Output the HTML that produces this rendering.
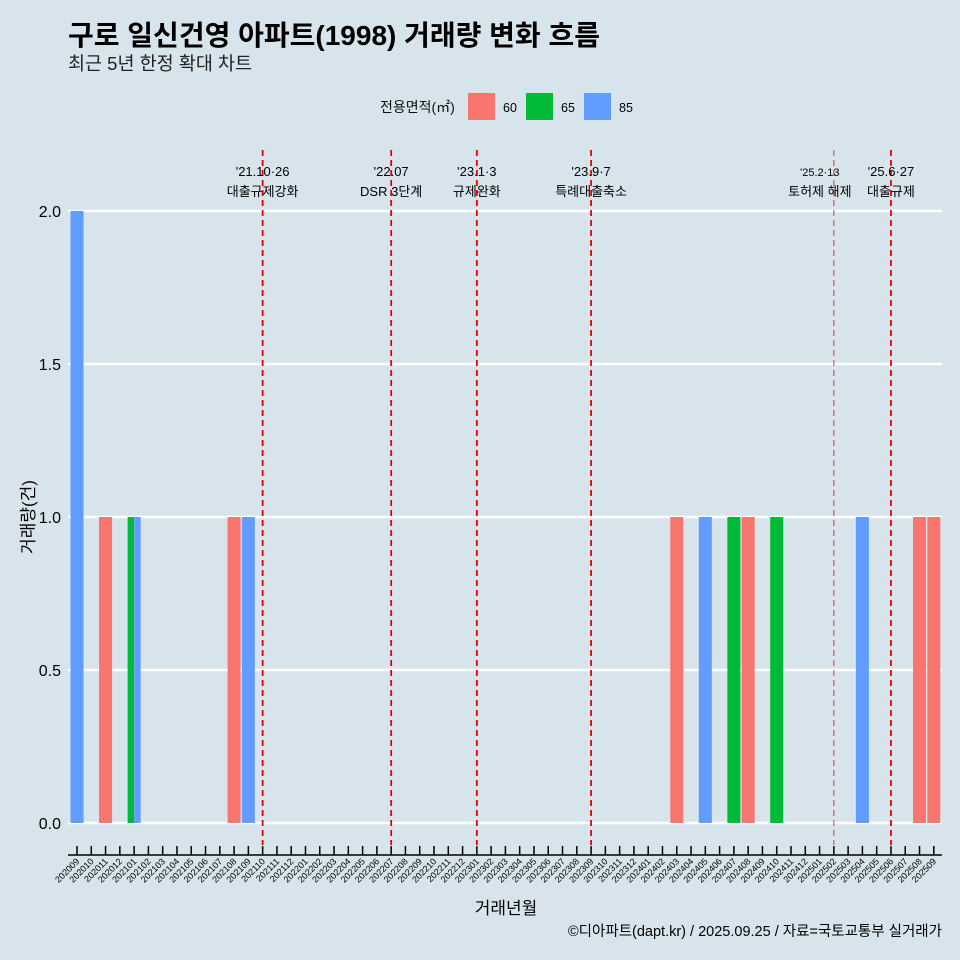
<!DOCTYPE html>
<html><head><meta charset="utf-8"><style>
body{margin:0;background:#d7e4eb;}
svg{display:block;font-family:"Liberation Sans","Noto Sans CJK KR",sans-serif;}
</style></head><body>
<svg id="c" width="960" height="960" xmlns="http://www.w3.org/2000/svg">
<rect width="960" height="960" fill="#d7e4eb"/>
<text x="68" y="45" font-size="28" font-weight="bold" fill="#000">구로 일신건영 아파트(1998) 거래량 변화 흐름</text>
<text x="68" y="70" font-size="18.5" fill="#222">최근 5년 한정 확대 차트</text>
<g>
<text x="380" y="112" font-size="14" fill="#111">전용면적(㎡)</text>
<rect x="468" y="93" width="27" height="27" fill="#f8766d"/>
<text x="503" y="112" font-size="12.5">60</text>
<rect x="526" y="93" width="27" height="27" fill="#00ba38"/>
<text x="561" y="112" font-size="12.5">65</text>
<rect x="584" y="93" width="27" height="27" fill="#619cff"/>
<text x="619" y="112" font-size="12.5">85</text>
</g>
<g id="grid"></g><g id="bars"></g><g id="events"></g><g id="xaxis"></g>
<text x="34" y="517" font-size="17" transform="rotate(-90 34 517)" text-anchor="middle">거래량(건)</text>
<text x="506" y="914" font-size="17" text-anchor="middle">거래년월</text>
<text x="942" y="936" font-size="14.5" text-anchor="end">©디아파트(dapt.kr) / 2025.09.25 / 자료=국토교통부 실거래가</text>
</svg>
<script>
const months=[];for(let y=2020,m=9;y<2025||(y===2025&&m<=9);){months.push(''+y+(m<10?'0':'')+m);m++;if(m>12){m=1;y++;}}
const barMonths=['202009','202011','202101','202101','202108','202109','202403','202405','202407','202408','202410','202504','202508','202509'];
const barSizes=['85','60','65','85','60','85','60','85','65','60','65','85','60','60'];
const barValues=[2,1,1,1,1,1,1,1,1,1,1,1,1,1];
const yTicks=[0,0.5,1,1.5,2];
const yTickLabels=['0.0','0.5','1.0','1.5','2.0'];
const eventMonths=['202110','202207','202301','202309','202502','202506'];
const eventDates=["'21.10·26","'22.07","'23.1·3","'23.9·7","'25.2·13","'25.6·27"];
const eventNames=['대출규제강화','DSR 3단계','규제완화','특례대출축소','토허제 해제','대출규제'];
const colors={'60':'#f8766d','65':'#00ba38','85':'#619cff'};
const NS='http://www.w3.org/2000/svg';
const x0=77,dx=14.28,yz=823,ys=306;
const X=m=>x0+months.indexOf(m)*dx, Y=v=>yz-v*ys;
function mk(p,t,a){const e=document.createElementNS(NS,t);for(const k in a)e.setAttribute(k,a[k]);document.getElementById(p).appendChild(e);return e;}
yTicks.forEach((v,i)=>{
 const l=mk('grid','line',{x1:68,x2:942,y1:Y(v),y2:Y(v),stroke:'#fff','stroke-width':2.5});
 
 
 const t=mk('grid','text',{x:61,y:Y(v)+6,'font-size':16,'text-anchor':'end'});t.textContent=yTickLabels[i];
 
 
});
const groups={};barMonths.forEach((m,i)=>{(groups[m]=groups[m]||[]).push(i);});
for(const m in groups){const g=groups[m],w=13/g.length;
 g.forEach((i,j)=>{const r=mk('bars','rect',{x:X(m)-6.5+j*w,y:Y(barValues[i]),width:w,height:barValues[i]*ys,fill:colors[barSizes[i]]});
 
 });}
eventMonths.forEach((m,i)=>{const x=X(m);
 const l=mk('events','line',{x1:x,x2:x,y1:150,y2:845,stroke:i===4?'#e33':'#e00','stroke-width':i===4?1:1.8,'stroke-dasharray':'6 4'});
 
 
 const small=i===4;
 const t1=mk('events','text',{x:x+(small?-14:0),y:176,'font-size':small?11:13,'text-anchor':'middle'});t1.textContent=eventDates[i];
 
 
 const t2=mk('events','text',{x:x+(small?-14:0),y:196,'font-size':13,'text-anchor':'middle'});t2.textContent=eventNames[i];
 
 
});
const ax=mk('xaxis','line',{x1:68,x2:942,y1:855,y2:855,stroke:'#000','stroke-width':1.5});


months.forEach(m=>{const x=X(m);
 const t=mk('xaxis','line',{x1:x,x2:x,y1:846,y2:855,stroke:'#000','stroke-width':1.5});
 
 
 const l=mk('xaxis','text',{x:x+3,y:862,'font-size':9,'text-anchor':'end',transform:`rotate(-45 ${x+3} 862)`});l.textContent=m;
 
 
});
</script>
</body></html>
